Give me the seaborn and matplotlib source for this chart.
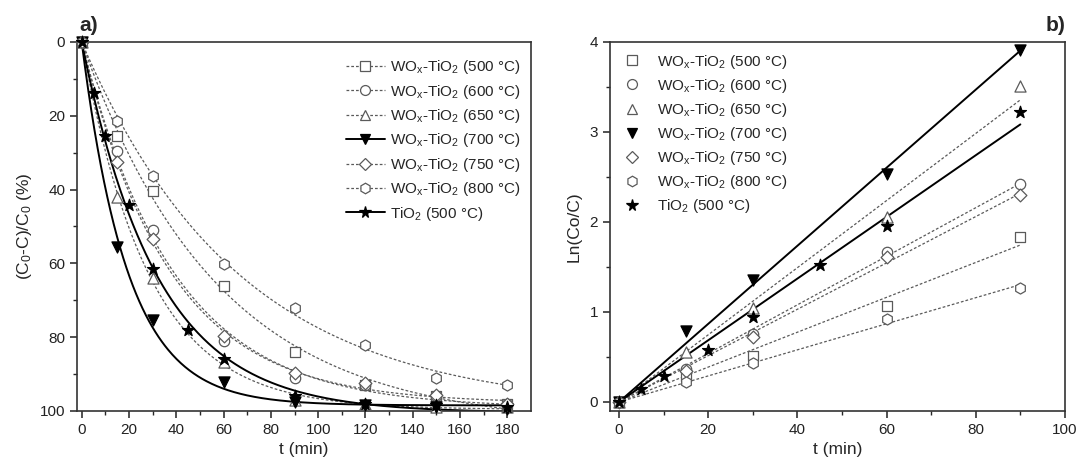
import numpy as np
import pandas as pd
import matplotlib
matplotlib.use("Agg")
import matplotlib.pyplot as plt
from matplotlib.lines import Line2D
import seaborn as sns

# ---------------- data ----------------
labels = [r"WO$\mathregular{_x}$-TiO$\mathregular{_2}$ (500 °C)",
          r"WO$\mathregular{_x}$-TiO$\mathregular{_2}$ (600 °C)",
          r"WO$\mathregular{_x}$-TiO$\mathregular{_2}$ (650 °C)",
          r"WO$\mathregular{_x}$-TiO$\mathregular{_2}$ (700 °C)",
          r"WO$\mathregular{_x}$-TiO$\mathregular{_2}$ (750 °C)",
          r"WO$\mathregular{_x}$-TiO$\mathregular{_2}$ (800 °C)",
          r"TiO$\mathregular{_2}$ (500 °C)"]

# panel a: degradation (%)
t_a = [0, 15, 30, 60, 90, 120, 150, 180]
t_a_tio2 = [0, 5, 10, 20, 30, 45, 60, 90, 120, 150, 180]
deg_500 = [0, 25.5, 40.5, 66, 84, 93, 96, 98]
deg_600 = [0, 29.5, 51, 81, 91, 93, 96, 98]
deg_650 = [0, 42, 64, 86.7, 97, 98, 99, 99]
deg_700 = [0, 55.5, 75.3, 92.2, 97.6, 98.5, 99, 99.5]
deg_750 = [0, 32.4, 53.3, 79.8, 89.8, 92.5, 95.7, 98]
deg_800 = [0, 21.5, 36.3, 60.1, 72, 82, 91, 93]
deg_tio2 = [0, 13.7, 25.5, 44.3, 61.4, 78, 86, 96, 98, 98.5, 99]

# panel b: Ln(Co/C)
t_b = [0, 15, 30, 60, 90]
t_b_tio2 = [0, 5, 10, 20, 30, 45, 60, 90]
ln_500 = [0, 0.29, 0.51, 1.07, 1.83]
ln_600 = [0, 0.37, 0.76, 1.665, 2.42]
ln_650 = [0, 0.55, 1.04, 2.05, 3.51]
ln_700 = [0, 0.79, 1.36, 2.53, 3.91]
ln_750 = [0, 0.34, 0.72, 1.61, 2.30]
ln_800 = [0, 0.225, 0.43, 0.92, 1.27]
ln_tio2 = [0, 0.14, 0.29, 0.58, 0.94, 1.52, 1.96, 3.22]

series_a = [(t_a, deg_500), (t_a, deg_600), (t_a, deg_650), (t_a, deg_700),
            (t_a, deg_750), (t_a, deg_800), (t_a_tio2, deg_tio2)]
series_b = [(t_b, ln_500), (t_b, ln_600), (t_b, ln_650), (t_b, ln_700),
            (t_b, ln_750), (t_b, ln_800), (t_b_tio2, ln_tio2)]

markers = ["s", "o", "^", "v", "D", "h", "*"]
filled = [False, False, False, True, False, False, True]
msizes = [7, 7.5, 8, 8, 6.5, 8, 9]

# ---------------- style ----------------
sns.set_style("ticks")
plt.rcParams["font.family"] = ["Liberation Sans", "DejaVu Sans"]
plt.rcParams["mathtext.fontset"] = "custom"
plt.rcParams["mathtext.rm"] = "Liberation Sans"
plt.rcParams["mathtext.it"] = "Liberation Sans:italic"
plt.rcParams["mathtext.bf"] = "Liberation Sans:bold"

GREY = "#5a5a5a"
fig = plt.figure(figsize=(10.78, 4.68), dpi=100)
axa = fig.add_axes([0.0714, 0.1218, 0.4212, 0.7885])
axb = fig.add_axes([0.5659, 0.1218, 0.4220, 0.7885])


def style(i):
    if filled[i]:
        return dict(ls="-", color="black", lw=1.4), dict(fc="black", ec="black")
    return dict(ls=(0, (2.2, 1.6)), color=GREY, lw=0.9), dict(fc="white", ec=GREY)


def exp_fit(t, y):
    t = np.asarray(t, float)
    y = np.asarray(y, float)
    best = None
    for k in np.linspace(0.003, 0.25, 3000):
        f = 1 - np.exp(-k * t)
        A = np.sum(f * y) / np.sum(f * f)
        err = np.sum((A * f - y) ** 2)
        if best is None or err < best[0]:
            best = (err, A, k)
    return best[1], best[2]


# ---- panel a ----
tt = np.linspace(0, 180, 400)
for i, (t, y) in enumerate(series_a):
    lst, mst = style(i)
    A, k = exp_fit(t, y)
    dfc = pd.DataFrame({"t": tt, "y": A * (1 - np.exp(-k * tt))})
    sns.lineplot(data=dfc, x="t", y="y", ax=axa, color=lst["color"], lw=lst["lw"],
                 linestyle=lst["ls"], zorder=2)
    dfp = pd.DataFrame({"t": t, "y": y})
    sns.scatterplot(data=dfp, x="t", y="y", ax=axa, marker=markers[i],
                    s=msizes[i] ** 2, facecolor=mst["fc"], edgecolor=mst["ec"],
                    linewidth=0.9, zorder=3, clip_on=False)

axa.set_xlim(-2, 190)
axa.set_ylim(100, 0)
axa.set_xticks(np.arange(0, 181, 20))
axa.set_xticks(np.arange(0, 190, 10), minor=True)
axa.set_yticks(np.arange(0, 101, 20))
axa.set_yticks(np.arange(0, 101, 10), minor=True)
axa.set_xlabel("t (min)", fontsize=12.5, labelpad=4)
axa.set_ylabel(r"(C$\mathregular{_0}$-C)/C$\mathregular{_0}$ (%)", fontsize=12.5, labelpad=4)

handles_a = []
for i in range(7):
    lst, mst = style(i)
    handles_a.append(Line2D([], [], color=lst["color"], lw=lst["lw"], ls=lst["ls"],
                            marker=markers[i], markersize=msizes[i] * 0.95,
                            markerfacecolor=mst["fc"], markeredgecolor=mst["ec"],
                            markeredgewidth=0.9))
axa.legend(handles_a, labels, loc="upper right", frameon=False, fontsize=11,
           handlelength=2.6, handletextpad=0.3, labelspacing=0.42,
           bbox_to_anchor=(1.0, 0.985), borderaxespad=0.3)

# ---- panel b ----
tl = np.linspace(0, 90, 50)
for i, (t, y) in enumerate(series_b):
    lst, mst = style(i)
    ta = np.asarray(t, float)
    ya = np.asarray(y, float)
    slope = np.sum(ta * ya) / np.sum(ta * ta)
    dfl = pd.DataFrame({"t": tl, "y": slope * tl})
    sns.lineplot(data=dfl, x="t", y="y", ax=axb, color=lst["color"], lw=lst["lw"],
                 linestyle=lst["ls"], zorder=2)
    dfp = pd.DataFrame({"t": t, "y": y})
    sns.scatterplot(data=dfp, x="t", y="y", ax=axb, marker=markers[i],
                    s=msizes[i] ** 2, facecolor=mst["fc"], edgecolor=mst["ec"],
                    linewidth=0.9, zorder=3, clip_on=False)

axb.set_xlim(-2, 100)
axb.set_ylim(-0.1, 4)
axb.set_xticks(np.arange(0, 101, 20))
axb.set_xticks(np.arange(0, 101, 10), minor=True)
axb.set_yticks(np.arange(0, 4.01, 1))
axb.set_yticks(np.arange(0, 4.01, 0.5), minor=True)
axb.set_xlabel("t (min)", fontsize=12.5, labelpad=4)
axb.set_ylabel("Ln(Co/C)", fontsize=12.5, labelpad=6)

handles_b = []
for i in range(7):
    lst, mst = style(i)
    handles_b.append(Line2D([], [], ls="none", marker=markers[i],
                            markersize=msizes[i] * 0.95,
                            markerfacecolor=mst["fc"], markeredgecolor=mst["ec"],
                            markeredgewidth=0.9))
axb.legend(handles_b, labels, loc="upper left", frameon=False, fontsize=11,
           handlelength=1.5, handletextpad=0.9, labelspacing=0.4,
           bbox_to_anchor=(0.0, 1.0), borderaxespad=0.3)

for ax in (axa, axb):
    for sp in ax.spines.values():
        sp.set_visible(True)
        sp.set_linewidth(1.2)
        sp.set_color("#333333")
    ax.tick_params(which="major", direction="out", length=5, width=1.1,
                   labelsize=11, colors="#222222", top=False, right=False)
    ax.tick_params(which="minor", direction="out", length=3, width=1.0,
                   top=False, right=False)

fig.text(0.074, 0.925, "a)", fontsize=15, fontweight="bold", ha="left", va="bottom")
fig.text(0.988, 0.925, "b)", fontsize=15, fontweight="bold", ha="right", va="bottom")

fig.savefig("out.png", dpi=100)
